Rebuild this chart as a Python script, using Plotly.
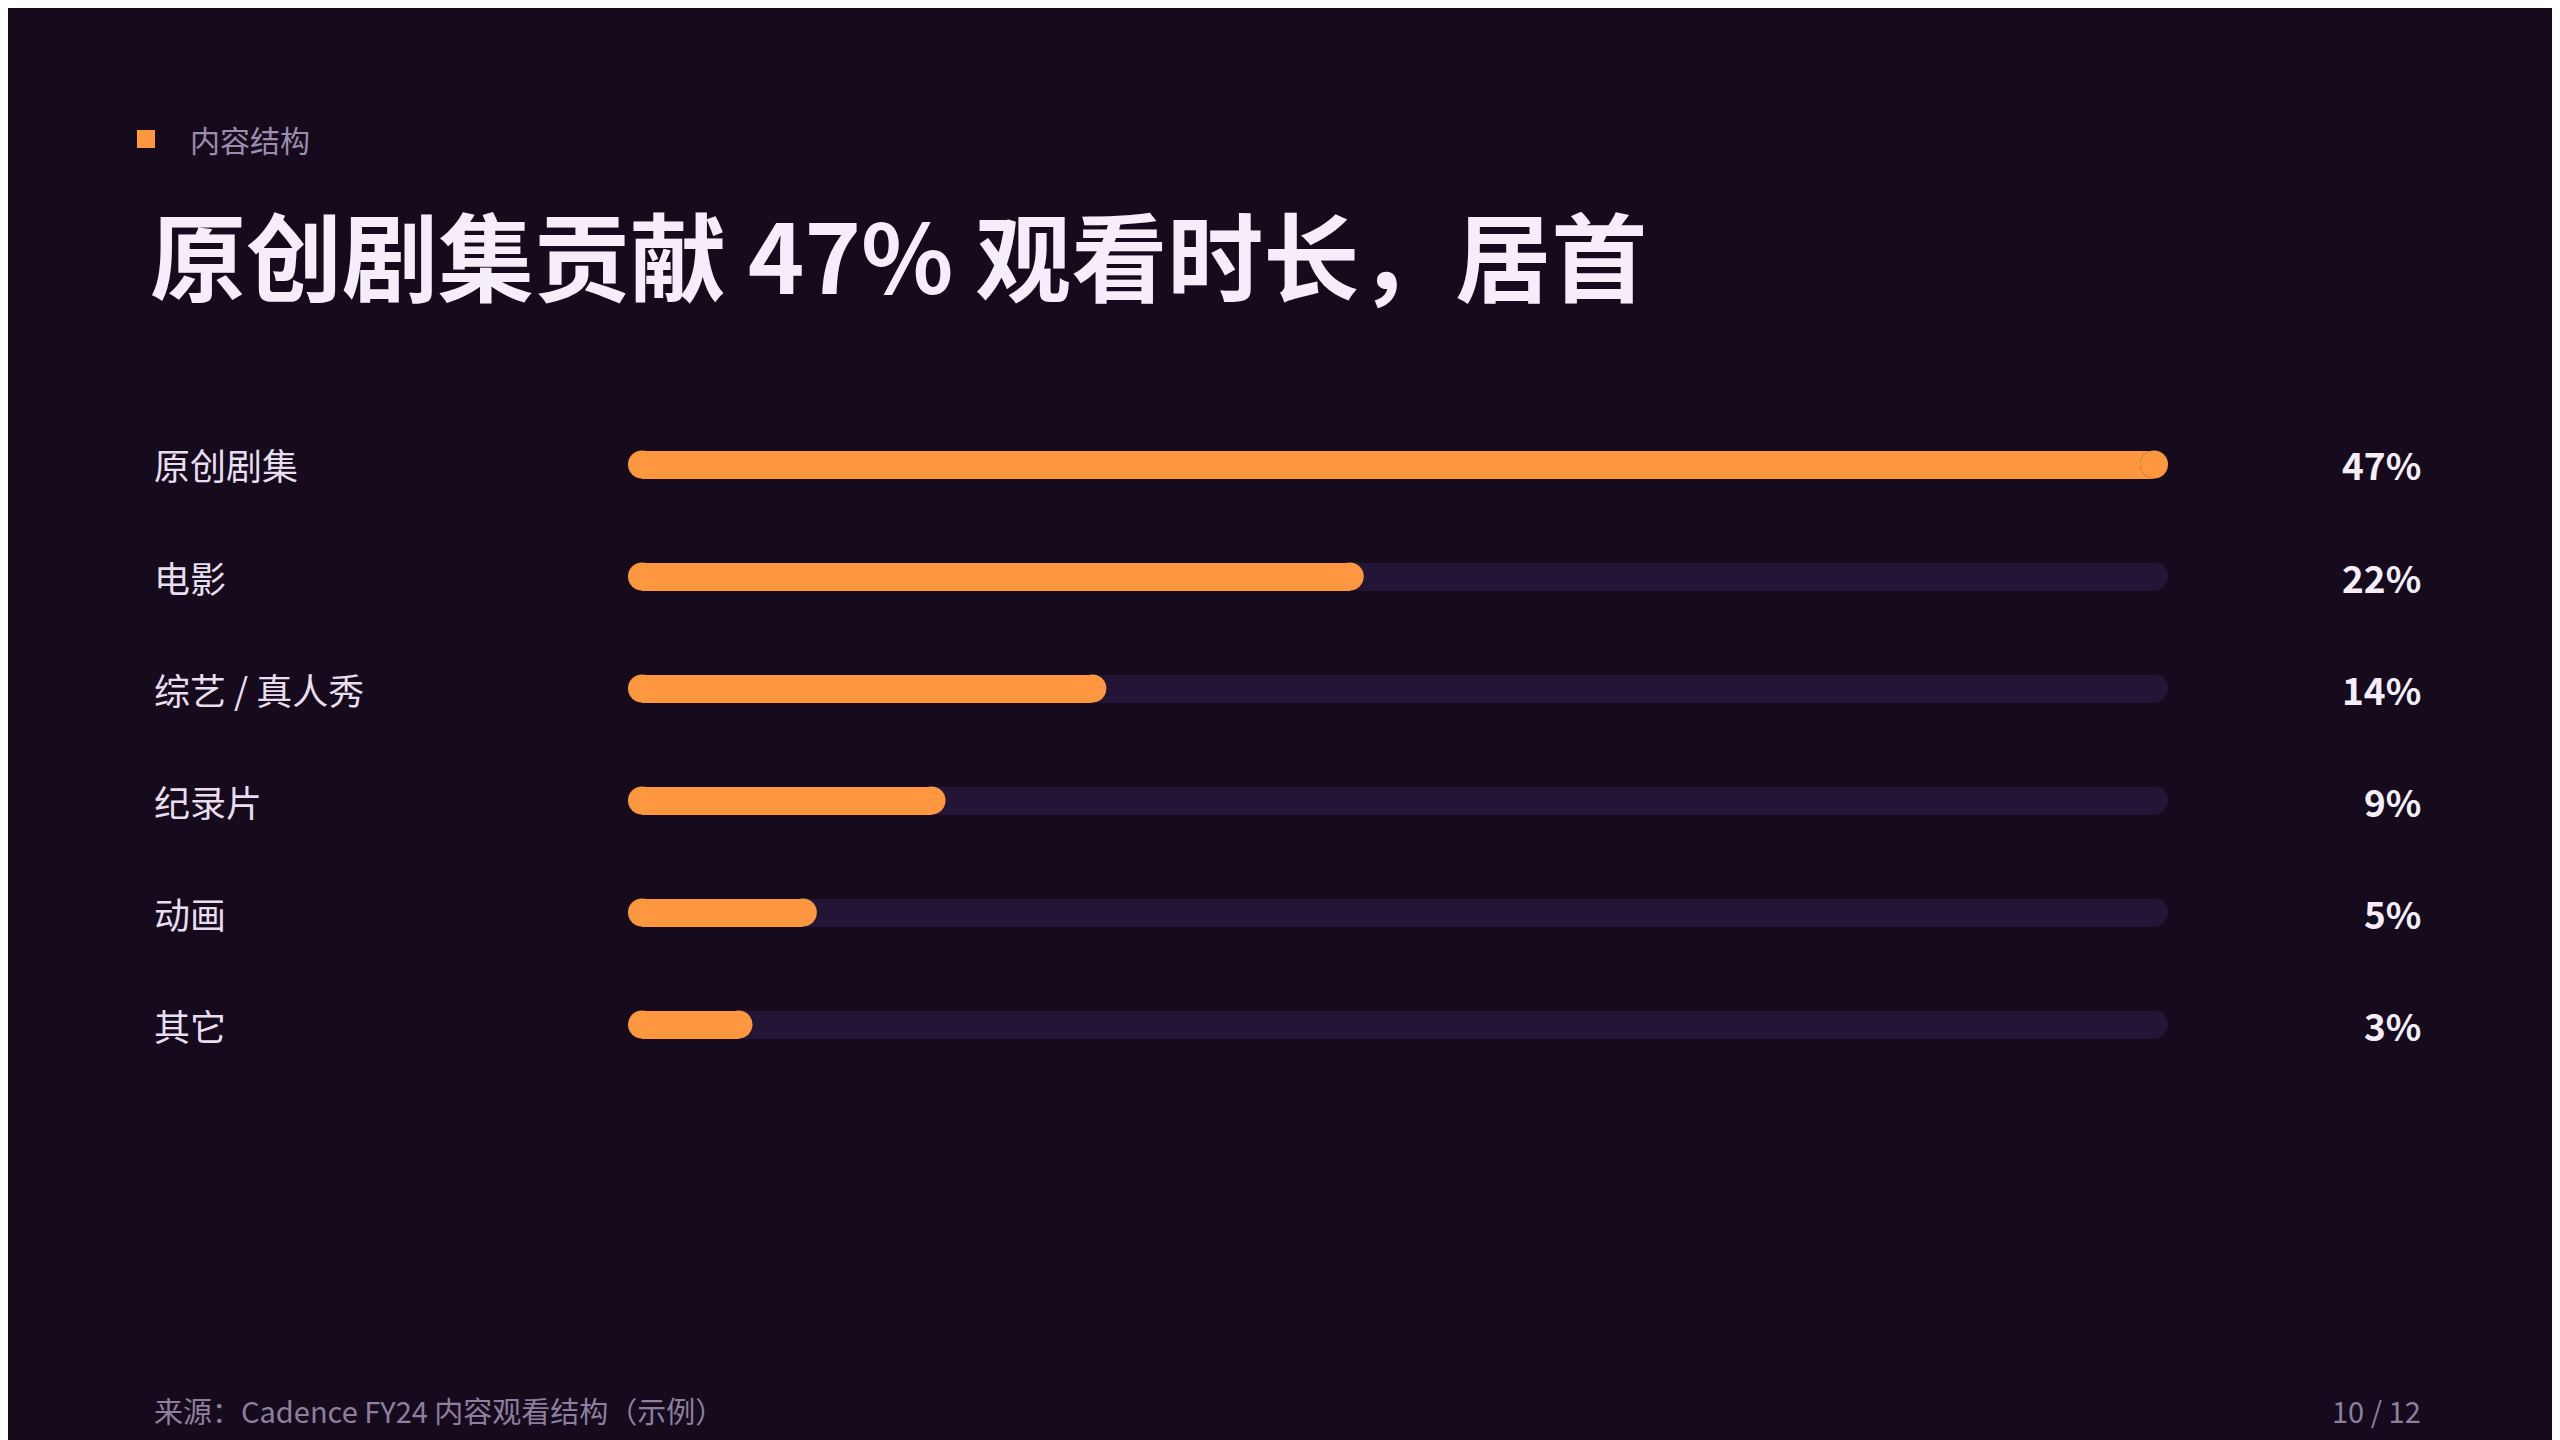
import plotly.graph_objects as go

categories = ["原创剧集", "电影", "综艺 / 真人秀", "纪录片", "动画", "其它"]
values = [47, 22, 14, 9, 5, 3]
value_labels = ["47%", "22%", "14%", "9%", "5%", "3%"]
track_max = 47

W, H = 2560, 1440
BG = "#150b1d"
ORANGE = "#ff9640"
TRACK = "#231535"
FONT = "Noto Sans CJK SC"
n = len(categories)

fig = go.Figure()
fig.add_trace(go.Bar(y=categories, x=[track_max]*n, orientation="h",
                     marker=dict(color=TRACK, line=dict(width=0)), width=0.25, hoverinfo="skip"))
fig.add_trace(go.Scatter(y=categories, x=[track_max]*n, mode="markers", cliponaxis=False,
                         marker=dict(color=TRACK, size=28, line=dict(width=0)), hoverinfo="skip"))
fig.add_trace(go.Bar(y=categories, x=values, orientation="h",
                     marker=dict(color=ORANGE, line=dict(width=0)), width=0.25, hoverinfo="skip"))
fig.add_trace(go.Scatter(y=categories + categories, x=[0]*n + values, mode="markers", cliponaxis=False,
                         marker=dict(color=ORANGE, size=28, line=dict(width=0)), hoverinfo="skip"))

ann = []
for c, v in zip(categories, value_labels):
    ann.append(dict(x=144/W, xref="paper", y=c, yref="y", text=c, showarrow=False,
                    xanchor="left", yanchor="middle", font=dict(family=FONT, size=36, color="#e8def0")))
    ann.append(dict(x=2415/W, xref="paper", y=c, yref="y", text="<b>"+v+"</b>", showarrow=False,
                    xanchor="right", yanchor="middle", font=dict(family=FONT, size=37, color="#f5eefa")))
ann.append(dict(x=180/W, xref="paper", y=1-131/H, yref="paper", text="内容结构", showarrow=False,
                xanchor="left", yanchor="middle", font=dict(family=FONT, size=30, color="#9d8cae")))
ann.append(dict(x=140/W, xref="paper", y=1-245/H, yref="paper", text="<b>原创剧集贡献 47% 观看时长，居首</b>",
                showarrow=False, xanchor="left", yanchor="middle",
                font=dict(family=FONT, size=96, color="#f5eefa")))
ann.append(dict(x=144/W, xref="paper", y=1-1402/H, yref="paper", text="来源：Cadence FY24 内容观看结构（示例）",
                showarrow=False, xanchor="left", yanchor="middle",
                font=dict(family=FONT, size=29, color="#8e7f9e")))
ann.append(dict(x=2415/W, xref="paper", y=1-1402/H, yref="paper", text="10 / 12",
                showarrow=False, xanchor="right", yanchor="middle",
                font=dict(family=FONT, size=29, color="#8e7f9e")))

fig.update_layout(
    width=W, height=H, paper_bgcolor=BG, plot_bgcolor=BG,
    margin=dict(l=0, r=0, t=0, b=0), showlegend=False, barmode="overlay", bargap=0,
    xaxis=dict(domain=[634/W, 2146/W], range=[0, track_max], visible=False, fixedrange=True),
    yaxis=dict(domain=[1-1072.5/H, 1-400.5/H], autorange=False, range=[5.5, -0.5],
               categoryorder="array", categoryarray=categories, visible=False, fixedrange=True),
    annotations=ann,
    shapes=[dict(type="rect", xref="paper", yref="paper", x0=129/W, x1=147/W,
                 y0=1-140/H, y1=1-122/H, fillcolor=ORANGE, line=dict(width=0))],
)
fig.write_html("out.html")
